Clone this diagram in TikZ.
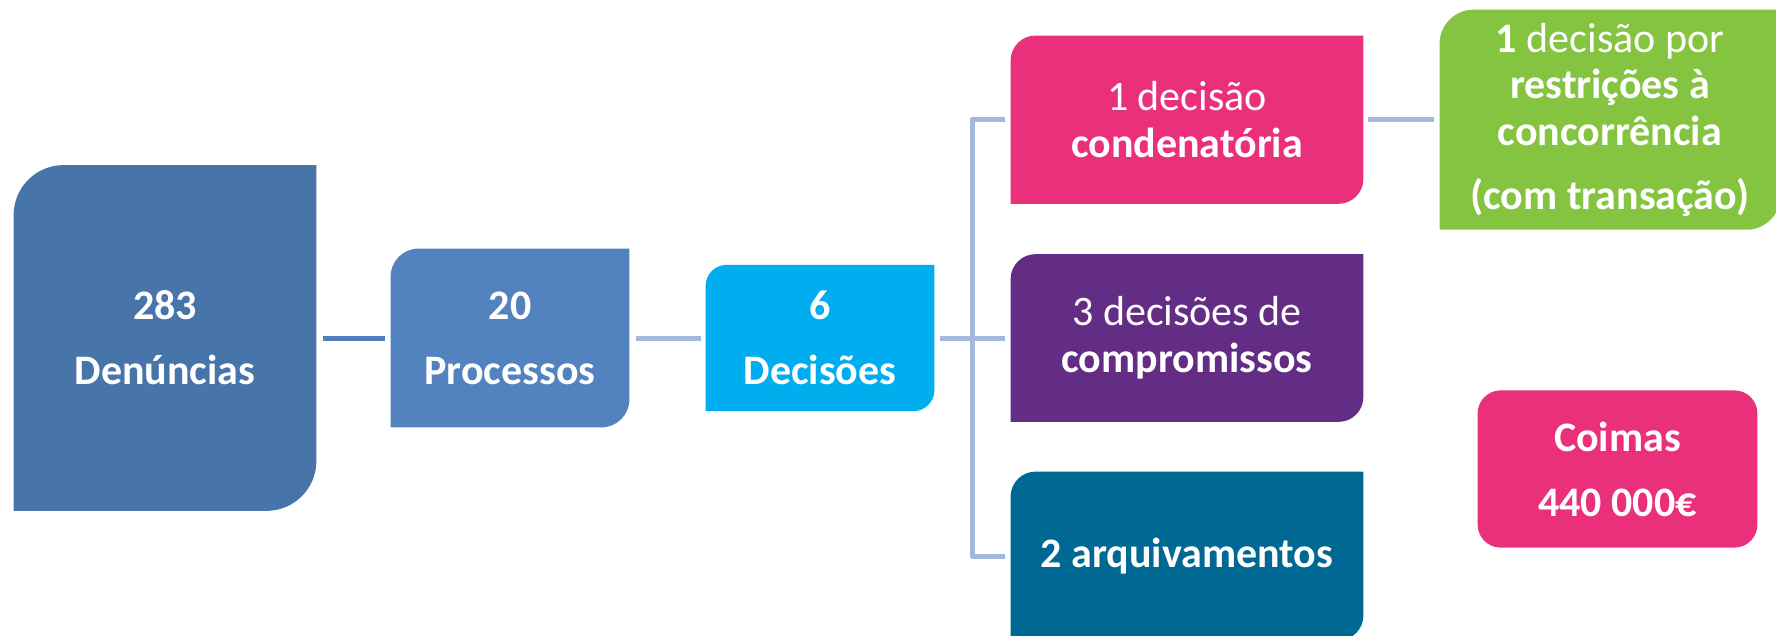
\documentclass[tikz,border=0pt]{standalone}
\usepackage{fontspec}
\setmainfont{Carlito}
\usetikzlibrary{backgrounds}
\definecolor{cA}{HTML}{4775AA}
\definecolor{cB}{HTML}{5283BF}
\definecolor{cC}{HTML}{00AEEF}
\definecolor{cPink}{HTML}{EA307B}
\definecolor{cPurple}{HTML}{632D86}
\definecolor{cTeal}{HTML}{006993}
\definecolor{cGreen}{HTML}{85C441}
\definecolor{cLine}{HTML}{A6B8D9}
\definecolor{cLineDark}{HTML}{5080BC}
\newcommand{\tlbrfill}[3]{%
  \fill[#3] (#1.south west) -- ([yshift=-#2]#1.north west)
    arc[start angle=180,end angle=90,radius=#2] -- (#1.north east)
    -- ([yshift=#2]#1.south east)
    arc[start angle=0,end angle=-90,radius=#2] -- cycle;}
\begin{document}
\begin{tikzpicture}[x=0.5pt,y=-0.5pt,
  box/.style={inner sep=0pt, text=white, align=center,
    font=\fontsize{21}{32.5}\selectfont},
  tight/.style={font=\fontsize{21}{23.3}\selectfont},
  conn/.style={line width=2.5pt, draw=cLine, line join=round},
  darkconn/.style={line width=2.5pt, draw=cLineDark}]
\useasboundingbox (0,0) rectangle (1776,636);
\clip (0,0) rectangle (1776,636);

\node[box, minimum width=151pt, minimum height=172.5pt] (A) at (165,338)
  {\textbf{283}\\\textbf{Denúncias}};
\node[box, minimum width=119pt, minimum height=89pt] (B) at (510,338)
  {\textbf{20}\\\textbf{Processos}};
\node[box, minimum width=114pt, minimum height=72.75pt] (C) at (820,338)
  {\textbf{6}\\\textbf{Decisões}};
\node[box, tight, minimum width=176pt, minimum height=83.75pt] (D1) at (1187,119.7)
  {1 decisão\\\textbf{condenatória}};
\node[box, tight, minimum width=176pt, minimum height=83.5pt] (D2) at (1187,338)
  {3 decisões de\\\textbf{compromissos}};
\node[box, tight, minimum width=176pt, minimum height=84pt] (D3) at (1187,556)
  {\textbf{2 arquivamentos}};
\node[box, tight, minimum width=170pt, minimum height=109.65pt] (E) at (1610,119.7)
  {\textbf{1} decisão por\\\textbf{restrições à}\\\textbf{concorrência}\\[8.5pt]\textbf{(com transação)}};
\node[box, minimum width=139.5pt, minimum height=78.2pt] (F) at (1617.5,469)
  {\textbf{Coimas}\\\textbf{440 000€}};

\coordinate (j) at (972,338);

\begin{scope}[on background layer]
  \fill[white] (0,0) rectangle (1776,636);
  \tlbrfill{A}{25pt}{cA}
  \tlbrfill{B}{14pt}{cB}
  \tlbrfill{C}{10.5pt}{cC}
  \tlbrfill{D1}{12.5pt}{cPink}
  \tlbrfill{D2}{12.5pt}{cPurple}
  \tlbrfill{D3}{12.5pt}{cTeal}
  \tlbrfill{E}{17pt}{cGreen}
  \fill[cPink, rounded corners=11.5pt] (F.south west) rectangle (F.north east);
\end{scope}

\draw[darkconn, shorten <=3.5pt, shorten >=3pt] (A.east) -- (B.west);
\draw[conn, shorten <=3.5pt, shorten >=2.5pt] (B.east) -- (C.west);
\draw[conn, shorten <=3pt, shorten >=3pt] (C.east) -- (D2.west);
\draw[conn, shorten <=3pt, shorten >=3pt] (D1.west) -- (j |- D1.west) -- (j |- D3.west) -- (D3.west);
\draw[conn, shorten <=2.5pt, shorten >=3pt] (D1.east) -- (E.west);
\end{tikzpicture}
\end{document}
